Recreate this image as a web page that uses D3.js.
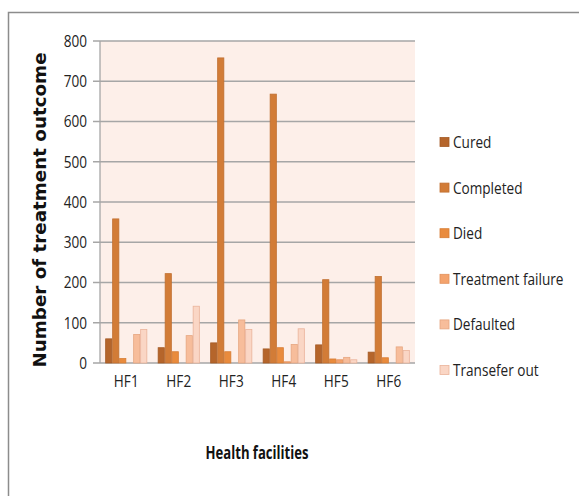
<!DOCTYPE html>
<html><head><meta charset="utf-8">
<script src="https://cdn.jsdelivr.net/npm/d3@7"></script>
<style>body{margin:0;background:#fff;} svg{display:block;}</style>
</head><body>
<script>
const categories = ["HF1","HF2","HF3","HF4","HF5","HF6"];
const seriesNames = ["Cured","Completed","Died","Treatment failure","Defaulted","Transefer out"];
const cured = [60, 38, 50, 35, 45, 27];
const completed = [358, 222, 758, 668, 207, 215];
const died = [11, 28, 28, 38, 10, 13];
const treatmentFailure = [0, 0, 0, 3, 8, 0];
const defaulted = [71, 68, 107, 46, 14, 40];
const transferOut = [83, 141, 83, 85, 8, 31];
const yTicks = [0,100,200,300,400,500,600,700,800];
const series = [cured, completed, died, treatmentFailure, defaulted, transferOut];
const fills = ["#b5652b","#d27c37","#e98b3d","#f4a36d","#f7bd9b","#fad6c5"];
const strokes = ["#a45a25","#c06f30","#d87d34","#e2915c","#e6a680","#eab39a"];

const W=579,H=496;
const svg=d3.select("body").append("svg").attr("width",W).attr("height",H);
svg.append("rect").attr("x",8.5).attr("y",12.5).attr("width",W).attr("height",H).attr("fill","#fff").attr("stroke","#8c8c8c").attr("stroke-width",1.5);

const L=100,R=415,T=41,B=363;
const y=d3.scaleLinear().domain([0,800]).range([B,T]);
svg.append("rect").attr("x",L).attr("y",T).attr("width",R-L).attr("height",B-T).attr("fill","#fdefe9");
svg.selectAll("line.grid").data(yTicks).join("line").attr("class","grid")
  .attr("x1",L-7).attr("x2",R).attr("y1",d=>y(d)).attr("y2",d=>y(d))
  .attr("stroke","#a6a6a6").attr("stroke-width",1.3);
svg.append("line").attr("x1",L).attr("x2",L).attr("y1",T).attr("y2",B).attr("stroke","#a6a6a6").attr("stroke-width",1.3);

const font='"Open Sans",sans-serif';
const SX=0.8;
function ctext(sel, xf, yf){ return sel.attr("transform",(d,i)=>`translate(${xf(d,i)},${yf(d,i)}) scale(${SX},1)`); }

ctext(svg.selectAll("text.yt").data(yTicks).join("text").attr("class","yt"), ()=>87, d=>y(d))
  .attr("dy","0.35em").attr("text-anchor","end")
  .attr("font-family",font).attr("font-size",17).attr("fill","#222").text(d=>d);

const step=(R-L)/categories.length;
const bw=step/(6+1.5);
const gx=d3.scaleBand().domain(d3.range(6)).range([0,bw*6]);
series.forEach((s,i)=>{
  svg.selectAll("rect.s"+i).data(s).join("rect").attr("class","s"+i)
   .attr("x",(d,j)=>L+step*j+step/2-bw*3+gx(i)+0.4)
   .attr("width",bw-0.8)
   .attr("y",d=>y(d)).attr("height",d=>B-y(d))
   .attr("fill",fills[i]).attr("stroke",strokes[i]).attr("stroke-width",d=>d>0?0.8:0);
});
ctext(svg.selectAll("text.xt").data(categories).join("text").attr("class","xt"), (d,j)=>L+step*j+step/2, ()=>381)
  .attr("dy","0.35em").attr("text-anchor","middle")
  .attr("font-family",font).attr("font-size",17).attr("fill","#222").text(d=>d);

svg.append("text").attr("transform","translate(46,210) rotate(-90)").attr("text-anchor","middle")
  .attr("font-family","DejaVu Sans, sans-serif").attr("font-weight","bold").attr("font-size",18.3).attr("fill","#111")
  .text("Number of treatment outcome");
svg.append("text").attr("transform",`translate(257,453) scale(0.77,1)`).attr("dy","0.35em").attr("text-anchor","middle")
  .attr("font-family",font).attr("font-weight","bold").attr("font-size",17).attr("fill","#111")
  .text("Health facilities");

const lg=svg.append("g");
seriesNames.forEach((n,i)=>{
  const yy=142+i*45.6;
  lg.append("rect").attr("x",440).attr("y",yy-4.5).attr("width",9).attr("height",9).attr("fill",fills[i]).attr("stroke",strokes[i]).attr("stroke-width",0.8);
  lg.append("text").attr("transform",`translate(453,${yy}) scale(${SX},1)`).attr("dy","0.35em").attr("font-family",font).attr("font-size",17).attr("fill","#222").text(n);
});
</script>
</body></html>
